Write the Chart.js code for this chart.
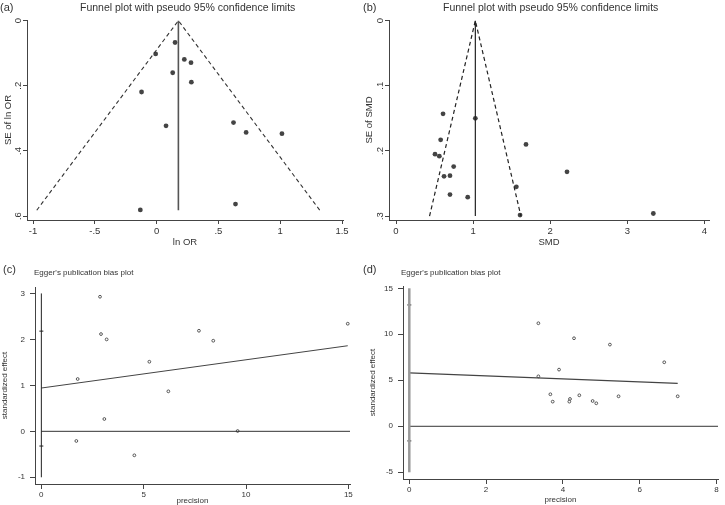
<!DOCTYPE html>
<html>
<head>
<meta charset="utf-8">
<script src="https://cdn.jsdelivr.net/npm/chart.js@4.4.1/dist/chart.umd.min.js"></script>
<style>
    body { margin: 0; background: #fff; font-family: "Liberation Sans", Arial, sans-serif; }
    #wrap { position: relative; width: 725px; height: 505px; overflow: hidden; background: #fff; }
    canvas { position: absolute; }
    .txt { position: absolute; white-space: nowrap; color: #333; }
</style>
</head>
<body>
<div id="wrap">
    <canvas id="chartA" width="360" height="255" style="left:0;top:0"></canvas>
    <canvas id="chartB" width="365" height="255" style="left:360px;top:0"></canvas>
    <canvas id="chartC" width="360" height="250" style="left:0;top:255px"></canvas>
    <canvas id="chartD" width="365" height="250" style="left:360px;top:255px"></canvas>

    <div class="txt" style="left:0;top:1px;font-size:11px">(a)</div>
    <div class="txt" style="left:80px;top:1px;font-size:10.5px;width:214px;text-align:center">Funnel plot with pseudo 95% confidence limits</div>
    <div class="txt" style="left:363px;top:1px;font-size:11px">(b)</div>
    <div class="txt" style="left:443px;top:1px;font-size:10.5px;width:214px;text-align:center">Funnel plot with pseudo 95% confidence limits</div>
    <div class="txt" style="left:3px;top:263px;font-size:11px">(c)</div>
    <div class="txt" style="left:34px;top:268px;font-size:8px">Egger's publication bias plot</div>
    <div class="txt" style="left:363px;top:263px;font-size:11px">(d)</div>
    <div class="txt" style="left:401px;top:268px;font-size:8px">Egger's publication bias plot</div>
</div>

<script>
// ===== DATA =====
// (a) funnel plot, ln OR
const lnOR   = [0.149, -0.008, 0.224, 0.278, 0.130, 0.281, -0.122, 0.076, 0.622, 0.724, 1.014, -0.132, 0.638];
const seLnOR = [0.067, 0.102, 0.119, 0.129, 0.160, 0.189, 0.219, 0.323, 0.313, 0.343, 0.347, 0.581, 0.563];
const pooledA = 0.176;
const funnelA_x  = [-0.97, 0.176, 1.32];
const funnelA_se = [0.582, 0, 0.582];
const xTicksA = [-1, -0.5, 0, 0.5, 1, 1.5];
const yTicksA = [0, 0.2, 0.4, 0.6];

// (b) funnel plot, SMD
const smd   = [0.610, 1.029, 0.579, 1.686, 0.506, 0.562, 0.748, 0.623, 0.700, 2.218, 1.561, 0.700, 0.930, 1.609, 3.338];
const seSmd = [0.143, 0.150, 0.183, 0.190, 0.205, 0.208, 0.224, 0.239, 0.238, 0.232, 0.255, 0.267, 0.271, 0.2985, 0.296];
const pooledB = 1.029;
const funnelB_x  = [0.435, 1.029, 1.62];
const funnelB_se = [0.3, 0, 0.3];
const xTicksB = [0, 1, 2, 3, 4];
const yTicksB = [0, 0.1, 0.2, 0.3];

// (c) Egger plot
const precC = [2.866, 2.915, 3.19, 1.775, 1.71, 3.078, 4.544, 5.277, 6.205, 7.70, 8.40, 9.59, 14.97];
const effC  = [2.928, 2.116, 2.0, 1.138, -0.21, 0.268, -0.522, 1.514, 0.870, 2.188, 1.971, 0.007, 2.341];
const ciC   = [2.18, -0.32];
const regC_x = [0, 14.97];
const regC_y = [0.942, 1.862];
const xTicksC = [0, 5, 10, 15];
const yTicksC = [-1, 0, 1, 2, 3];

// (d) Egger plot
const precD = [3.362, 3.362, 3.674, 3.735, 3.90, 4.29, 4.185, 4.168, 4.428, 4.775, 4.87, 5.225, 5.45, 6.64, 6.99];
const effD  = [11.20, 5.43, 3.48, 2.68, 6.16, 9.57, 2.97, 2.68, 3.37, 2.75, 2.50, 8.88, 3.26, 6.96, 3.26];
const ciD   = [13.19, -1.59];
const regD_x = [0, 6.99];
const regD_y = [5.80, 4.67];
const xTicksD = [0, 2, 4, 6, 8];
const yTicksD = [-5, 0, 5, 10, 15];

// ===== HELPERS =====
const FONT = "'Liberation Sans', Arial, sans-serif";
const INK = "#333";

// Stata style numbers: .5 instead of 0.5
function fmt(v) {
    return String(+v.toFixed(3)).replace(/^(-?)0\./, "$1.");
}

function pts(xs, ys) {
    return xs.map((x, i) => ({ x: x, y: ys[i] }));
}

function line(xs, ys, color, width, dash) {
    return {
        data: pts(xs, ys), showLine: true, pointRadius: 0,
        borderColor: color, borderWidth: width, borderDash: dash || [],
    };
}

// y tick labels turned 90 degrees (panels a and b)
const rotatedYTicks = {
    id: "rotatedYTicks",
    afterDraw(chart, args, opts) {
        if (!opts.on) return;
        const s = chart.scales.y;
        const ctx = chart.ctx;
        ctx.save();
        ctx.font = opts.size + "px " + FONT;
        ctx.fillStyle = INK;
        ctx.textAlign = "center";
        ctx.textBaseline = "middle";
        s.ticks.forEach(t => {
            ctx.save();
            ctx.translate(opts.x, s.getPixelForValue(t.value));
            ctx.rotate(-Math.PI / 2);
            ctx.fillText(fmt(t.value), 0, 0);
            ctx.restore();
        });
        ctx.restore();
    }
};

function makeChart(id, p) {
    const axis = (ticks, range, title, size, pad, extra) => Object.assign({
        type: "linear", min: range[0], max: range[1],
        afterBuildTicks: s => { s.ticks = ticks.map(v => ({ value: v })); },
        grid: { drawOnChartArea: false, drawTicks: true, tickLength: p.tick, color: "#444" },
        border: { display: true, color: "#444", width: 1 },
        ticks: { autoSkip: false, maxRotation: 0, color: INK, padding: pad,
                 font: { family: FONT, size: size }, callback: v => fmt(v) },
        title: { display: true, text: title, color: INK, font: { family: FONT, size: size, lineHeight: 1.1 } },
    }, extra);

    const x = axis(p.xTicks, p.xr, p.xTitle, p.font, p.tickPad, {});
    x.afterFit = s => { s.height = p.xH; };
    x.title.padding = { top: 0, bottom: p.xTitlePad };

    const y = axis(p.yTicks, p.yr, p.yTitle, p.font, p.yTickPad || p.tickPad, { reverse: !!p.reverse });
    y.afterFit = s => { s.width = p.yW; };
    y.title.padding = { top: p.yTitlePad, bottom: 0 };
    if (p.rotY) y.ticks.display = false;

    return new Chart(document.getElementById(id), {
        type: "scatter",
        data: { datasets: p.datasets },
        options: {
            responsive: false,
            animation: false,
            layout: { padding: p.pad },
            plugins: {
                legend: { display: false },
                tooltip: { enabled: false },
                rotatedYTicks: { on: !!p.rotY, x: p.rotX, size: p.font },
            },
            scales: { x: x, y: y },
        },
        plugins: [rotatedYTicks],
    });
}

const dots = (xs, ys) => ({
    data: pts(xs, ys), pointRadius: 2.4, pointBackgroundColor: "#444",
    pointBorderColor: "#444", pointBorderWidth: 0,
});
const rings = (xs, ys, r) => ({
    data: pts(xs, ys), pointRadius: r, pointBackgroundColor: "#fff",
    pointBorderColor: "#333", pointBorderWidth: 0.8,
});
const dashes = (xs, ys) => ({
    data: pts(xs, ys), pointStyle: "line", pointRadius: 2,
    pointBorderColor: "#222", pointBorderWidth: 1,
});

// ===== PANEL (a) =====
makeChart("chartA", {
    datasets: [
        line(funnelA_x, funnelA_se, "#333", 1.1, [4, 3]),
        line([pooledA, pooledA], [0, funnelA_se[0]], "#555", 1.6),
        dots(lnOR, seLnOR),
    ],
    xr: [-1.049, 1.508], yr: [-0.002, 0.612], reverse: true,
    xTicks: xTicksA, yTicks: yTicksA, xTitle: "ln OR", yTitle: "SE of ln OR",
    font: 9.5, tick: 4, tickPad: 2, xH: 35, yW: 27, xTitlePad: 7, yTitlePad: 3,
    rotY: true, rotX: 18.5,
    pad: { left: 0, right: 17, top: 20, bottom: 0 },
});

// ===== PANEL (b) =====
makeChart("chartB", {
    datasets: [
        line(funnelB_x, funnelB_se, "#222", 1.2, [4, 3]),
        line([pooledB, pooledB], [0, funnelB_se[0]], "#222", 1.2),
        dots(smd, seSmd),
    ],
    xr: [-0.091, 4.06], yr: [-0.001, 0.306], reverse: true,
    xTicks: xTicksB, yTicks: yTicksB, xTitle: "SMD", yTitle: "SE of SMD",
    font: 9.5, tick: 4, tickPad: 2, xH: 35, yW: 29, xTitlePad: 7, yTitlePad: 4,
    rotY: true, rotX: 20.5,
    pad: { left: 0, right: 16, top: 20, bottom: 0 },
});

// ===== PANEL (c) =====
makeChart("chartC", {
    datasets: [
        line([0, 0], [yTicksC[0], yTicksC[yTicksC.length - 1]], "#222", 1),
        line([0, 15.08], [0, 0], "#333", 1),
        line(regC_x, regC_y, "#444", 1),
        dashes([0, 0], ciC),
        rings(precC, effC, 1.4),
    ],
    xr: [-0.31, 15.08], yr: [-1.146, 3.14],
    xTicks: xTicksC, yTicks: yTicksC, xTitle: "precision", yTitle: "standardized effect",
    font: 8, tick: 5, tickPad: 1, yTickPad: 5, xH: 21, yW: 35, xTitlePad: 0, yTitlePad: 0,
    pad: { left: 0, right: 10, top: 32, bottom: 0 },
});

// ===== PANEL (d) =====
makeChart("chartD", {
    datasets: [
        line([0, 0], [yTicksD[0], yTicksD[yTicksD.length - 1]], "#9a9a9a", 2.5),
        line([0, 8.04], [0, 0], "#333", 1),
        line(regD_x, regD_y, "#444", 1.2),
        dashes([0, 0], ciD),
        rings(precD, effD, 1.4),
    ],
    xr: [-0.164, 8.04], yr: [-5.73, 15.25],
    xTicks: xTicksD, yTicks: yTicksD, xTitle: "precision", yTitle: "standardized effect",
    font: 8, tick: 5, tickPad: 1, yTickPad: 5, xH: 26, yW: 43, xTitlePad: 1, yTitlePad: 8,
    pad: { left: 0, right: 7, top: 31, bottom: 0 },
});
</script>
</body>
</html>
